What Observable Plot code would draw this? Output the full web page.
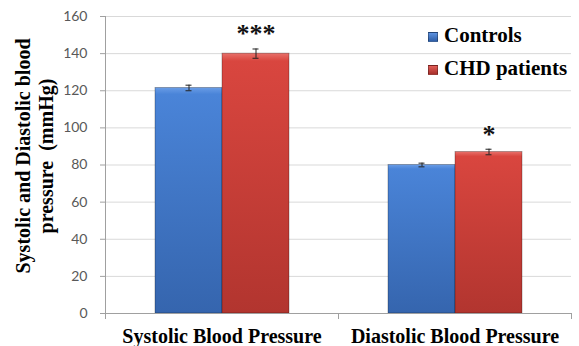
<!DOCTYPE html>
<html><head><meta charset="utf-8">
<script src="https://cdn.jsdelivr.net/npm/d3@7"></script>
<script src="https://cdn.jsdelivr.net/npm/@observablehq/plot@0.6"></script>
<style>
body{margin:0;background:#fff;}
#wrap{position:relative;width:579px;height:346px;}
#wrap svg{display:block;}
.lg{position:absolute;left:428px;font:bold 21px/21px "Liberation Serif",serif;color:#000;white-space:nowrap;}
.lg span.sw{display:inline-block;width:10px;height:10px;margin-right:6px;vertical-align:0px;box-sizing:border-box;border:1px solid rgba(0,0,0,0.3);}
</style></head><body><div id="wrap"></div>
<script>
const categories = ["Systolic Blood Pressure", "Diastolic Blood Pressure"];
const groups = ["Controls", "CHD patients"];
const controlsMean = [121.5, 80];
const controlsErr = [1.5, 1];
const chdMean = [140, 87];
const chdErr = [2.5, 1.5];
const significance = ["***", "*"];
const yTicks = [0, 20, 40, 60, 80, 100, 120, 140, 160];
const yLabel = "Systolic and Diastolic blood\npressure  (mmHg)";

const data = categories.flatMap((c, i) => [
  {category: c, group: groups[0], value: controlsMean[i], err: controlsErr[i], sig: ""},
  {category: c, group: groups[1], value: chdMean[i], err: chdErr[i], sig: significance[i]}
]);

const W = 579, H = 346, MT = 16, MB = 33;
const chart = Plot.plot({
  width: W, height: H,
  marginLeft: 105, marginRight: 8, marginTop: MT, marginBottom: MB,
  fx: {domain: categories, paddingInner: 0, paddingOuter: 0, label: null},
  x: {domain: groups, paddingInner: 0, paddingOuter: 0.725, axis: null},
  y: {domain: [0, 160], label: null},
  color: {domain: groups, range: ["url(#gBlue)", "url(#gRed)"]},
  style: {fontFamily: "Lato, sans-serif", fontSize: "14px", color: "#595959", background: "#fff"},
  marks: [
    Plot.gridY(yTicks, {stroke: "#d9d9d9", strokeOpacity: 1}),
    Plot.frame({anchor: "left", facetAnchor: "left", stroke: "#a0a0a0", strokeOpacity: 1, insetBottom: -5}),
    Plot.frame({anchor: "right", stroke: "#a0a0a0", strokeOpacity: 1, insetTop: H - MT - MB, insetBottom: -5}),
    Plot.axisY(yTicks, {tickSize: 5, tickPadding: 13, stroke: "#a0a0a0", fill: "#595959", label: null}),
    Plot.text([yLabel], {frameAnchor: "left", facetAnchor: "left", rotate: -90, dx: -92, dy: -9,
      lineAnchor: "top", textAnchor: "middle", lineHeight: 1.15, fontSize: 20, fontWeight: "bold",
      fontFamily: "Liberation Serif, serif", fill: "#000"}),
    Plot.axisFx({anchor: "bottom", tickSize: 0, tickPadding: 15, fontSize: 20, fontWeight: "bold",
      fontFamily: "Liberation Serif, serif", fill: "#000", label: null}),
    Plot.barY(data, {fx: "category", x: "group", y: "value", fill: "group",
      stroke: "rgba(0,0,0,0.35)", strokeWidth: 0.8}),
    Plot.ruleY([0], {stroke: "#a0a0a0"}),
    Plot.ruleX(data, {fx: "category", x: "group", y1: d => d.value - d.err, y2: d => d.value + d.err, stroke: "#222"}),
    Plot.tickY(data, {fx: "category", x: "group", y: d => d.value + d.err, stroke: "#222", insetLeft: 30.5, insetRight: 30.5}),
    Plot.tickY(data, {fx: "category", x: "group", y: d => d.value - d.err, stroke: "#222", insetLeft: 30.5, insetRight: 30.5}),
    Plot.text(data.filter(d => d.sig), {fx: "category", x: "group", y: d => d.value + d.err, text: "sig",
      dy: -15, fontSize: 26, fontWeight: "bold", fontFamily: "Liberation Serif, serif", fill: "#111"})
  ]
});

const defs = d3.select(chart).insert("defs", ":first-child");
function grad(id, c0, c1, c2) {
  const g = defs.append("linearGradient").attr("id", id).attr("x1", 0).attr("y1", 0).attr("x2", 0).attr("y2", 1);
  g.append("stop").attr("offset", "0%").attr("stop-color", c0);
  g.append("stop").attr("offset", "3%").attr("stop-color", c1);
  g.append("stop").attr("offset", "100%").attr("stop-color", c2);
}
grad("gBlue", "#6a9de6", "#4a84d8", "#3565ae");
grad("gRed", "#e8716b", "#d9463f", "#b2352f");

const wrap = document.getElementById("wrap");
wrap.appendChild(chart);
const swatches = [
  {name: groups[0], bg: "linear-gradient(#5d92e0,#2f5fa8)", top: 25},
  {name: groups[1], bg: "linear-gradient(#e25d57,#a8302b)", top: 58}
];
for (const s of swatches) {
  const d = document.createElement("div");
  d.className = "lg";
  d.style.top = s.top + "px";
  const sw = document.createElement("span");
  sw.className = "sw";
  sw.style.background = s.bg;
  d.appendChild(sw);
  d.appendChild(document.createTextNode(s.name));
  wrap.appendChild(d);
}
</script></body></html>
